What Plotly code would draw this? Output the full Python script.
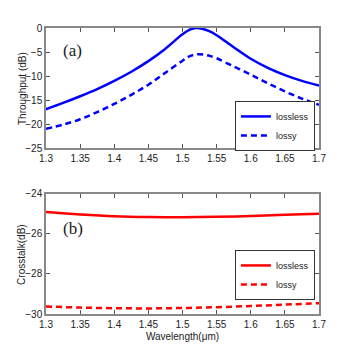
import plotly.graph_objects as go

# throughput (a)
wl_a = [1.30, 1.325, 1.35, 1.375, 1.40, 1.425, 1.45, 1.475, 1.50, 1.51, 1.52,
        1.53, 1.54, 1.55, 1.575, 1.60, 1.625, 1.65, 1.675, 1.70]
thr_lossless = [-16.9, -15.6, -14.2, -12.7, -11.0, -9.1, -6.9, -4.3, -1.3, -0.4, 0.0,
                -0.2, -0.7, -1.5, -4.0, -6.4, -8.3, -9.8, -11.0, -12.0]
thr_lossy = [-21.0, -20.1, -19.0, -17.5, -15.8, -13.9, -11.8, -9.3, -6.8, -5.9, -5.5,
             -5.5, -5.8, -6.3, -8.0, -9.7, -11.5, -13.2, -14.7, -16.0]

# crosstalk (b)
wl_b = [1.30, 1.35, 1.40, 1.45, 1.50, 1.55, 1.60, 1.65, 1.70]
xt_lossless = [-24.90, -25.02, -25.11, -25.15, -25.16, -25.14, -25.10, -25.04, -24.99]
xt_lossy = [-29.62, -29.68, -29.71, -29.72, -29.70, -29.66, -29.60, -29.53, -29.46]

x_ticks = [1.3, 1.35, 1.4, 1.45, 1.5, 1.55, 1.6, 1.65, 1.7]

AXIS = "#888888"
FONT = "Liberation Sans"

fig = go.Figure()
fig.add_trace(go.Scatter(x=wl_a, y=thr_lossless, name="lossless", mode="lines", line_shape="spline",
                         line=dict(color="#0000ff", width=2.5), xaxis="x", yaxis="y", legend="legend"))
fig.add_trace(go.Scatter(x=wl_a, y=thr_lossy, name="lossy", mode="lines", line_shape="spline",
                         line=dict(color="#0000ff", width=2.5, dash="6px,4px"), xaxis="x", yaxis="y",
                         legend="legend"))
fig.add_trace(go.Scatter(x=wl_b, y=xt_lossless, name="lossless", mode="lines", line_shape="spline",
                         line=dict(color="#ff0000", width=2.5), xaxis="x2", yaxis="y2", legend="legend2"))
fig.add_trace(go.Scatter(x=wl_b, y=xt_lossy, name="lossy", mode="lines", line_shape="spline",
                         line=dict(color="#ff0000", width=2.5, dash="6px,4px"), xaxis="x2", yaxis="y2",
                         legend="legend2"))

axis_common = dict(showline=True, linecolor=AXIS, linewidth=1.5, mirror="ticks", ticks="inside",
                   ticklen=4, tickcolor="#555555", showgrid=False, zeroline=False, automargin=False,
                   tickfont=dict(family=FONT, size=10, color="#222"))
title_font = dict(family=FONT, size=10, color="#222")
legend_common = dict(xanchor="left", yanchor="top", bgcolor="white", bordercolor="#333", borderwidth=1,
                     font=dict(family=FONT, size=9, color="#222"), tracegroupgap=0, itemwidth=30)

fig.update_layout(
    width=354, height=356,
    margin=dict(l=46, r=35, t=28, b=42),
    paper_bgcolor="white", plot_bgcolor="white",
    showlegend=True,
    xaxis=dict(domain=[0, 1], anchor="y", range=[1.3, 1.7], tickvals=x_ticks, **axis_common),
    yaxis=dict(domain=[0.580, 1], anchor="x", range=[-25, 0], tickvals=[-25, -20, -15, -10, -5, 0],
               **axis_common),
    xaxis2=dict(domain=[0, 1], anchor="y2", range=[1.3, 1.7], tickvals=x_ticks,
                title=dict(text="Wavelength(μm)", font=title_font, standoff=4), **axis_common),
    yaxis2=dict(domain=[0, 0.4196], anchor="x2", range=[-30, -24], tickvals=[-30, -28, -26, -24],
                **axis_common),
    legend=dict(x=0.692, y=0.745, **legend_common),
    legend2=dict(x=0.692, y=0.224, **legend_common),
    annotations=[
        dict(text="Throughput (dB)", x=-0.088, y=0.79, xref="paper", yref="paper", showarrow=False,
             textangle=-90, xanchor="center", yanchor="middle", font=title_font),
        dict(text="Crosstalk(dB)", x=-0.088, y=0.21, xref="paper", yref="paper", showarrow=False,
             textangle=-90, xanchor="center", yanchor="middle", font=title_font),
        dict(text="(a)", x=0.055, y=0.923, xref="paper", yref="paper", showarrow=False,
             xanchor="left", yanchor="middle", font=dict(family="Liberation Serif", size=17, color="#222")),
        dict(text="(b)", x=0.055, y=0.30, xref="paper", yref="paper", showarrow=False,
             xanchor="left", yanchor="middle", font=dict(family="Liberation Serif", size=17, color="#222")),
    ],
)

fig.write_html("out.html", config={"displayModeBar": False},
               post_script="document.body.style.margin='0';")
